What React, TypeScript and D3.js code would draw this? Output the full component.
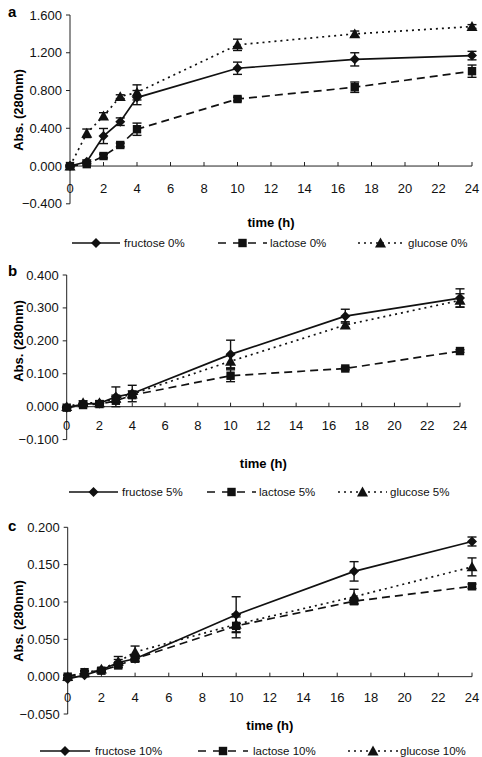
import React from "react";
import * as d3 from "d3";

const times = [0, 1, 2, 3, 4, 10, 17, 24];
const xTicks = [0, 2, 4, 6, 8, 10, 12, 14, 16, 18, 20, 22, 24];

// Panel a (0%)
const fructose0 = [0, 0.045, 0.318, 0.47, 0.725, 1.036, 1.13, 1.17];
const fructose0Err = [0.01, 0.02, 0.08, 0.04, 0.075, 0.065, 0.07, 0.045];
const lactose0 = [0, 0.02, 0.106, 0.223, 0.39, 0.71, 0.835, 1.005];
const lactose0Err = [0.01, 0.01, 0.02, 0.02, 0.065, 0.02, 0.055, 0.065];
const glucose0 = [0, 0.347, 0.53, 0.735, 0.78, 1.284, 1.4, 1.478];
const glucose0Err = [0.01, 0.045, 0.035, 0.02, 0.08, 0.06, 0.03, 0.02];
const yTicksA = [-0.4, 0, 0.4, 0.8, 1.2, 1.6];

// Panel b (5%)
const fructose5 = [-0.003, 0.008, 0.01, 0.03, 0.04, 0.159, 0.275, 0.33];
const fructose5Err = [0.002, 0.004, 0.004, 0.03, 0.025, 0.043, 0.021, 0.028];
const lactose5 = [-0.003, 0.005, 0.008, 0.018, 0.035, 0.094, 0.116, 0.169];
const lactose5Err = [0.002, 0.003, 0.003, 0.005, 0.005, 0.018, 0.004, 0.004];
const glucose5 = [0, 0.012, 0.012, 0.025, 0.038, 0.138, 0.248, 0.323];
const glucose5Err = [0.002, 0.006, 0.006, 0.01, 0.01, 0.02, 0.01, 0.02];
const yTicksB = [-0.1, 0, 0.1, 0.2, 0.3, 0.4];

// Panel c (10%)
const fructose10 = [-0.003, 0.002, 0.009, 0.019, 0.024, 0.083, 0.141, 0.181];
const fructose10Err = [0.002, 0.002, 0.002, 0.004, 0.004, 0.024, 0.013, 0.006];
const lactose10 = [0, 0.006, 0.008, 0.015, 0.024, 0.068, 0.101, 0.121];
const lactose10Err = [0.002, 0.002, 0.002, 0.003, 0.003, 0.016, 0.003, 0.003];
const glucose10 = [0, 0.005, 0.01, 0.02, 0.033, 0.07, 0.107, 0.147];
const glucose10Err = [0.002, 0.002, 0.002, 0.007, 0.008, 0.01, 0.01, 0.012];
const yTicksC = [-0.05, 0, 0.05, 0.1, 0.15, 0.2];

const FONT = "'Liberation Sans', Arial, Helvetica, sans-serif";

type Series = { name: string; values: number[]; err: number[]; kind: "diamond" | "square" | "triangle"; dash: string };

const dashOf = { diamond: "none", square: "8,5", triangle: "2,4" };

function Marker({ kind, x, y }: { kind: string; x: number; y: number }) {
  if (kind === "diamond") {
    const s = 5;
    return <path d={`M${x},${y - s}L${x + s},${y}L${x},${y + s}L${x - s},${y}Z`} fill="#111" />;
  }
  if (kind === "square") {
    const s = 4.2;
    return <rect x={x - s} y={y - s} width={2 * s} height={2 * s} fill="#111" />;
  }
  const s = 5.5;
  return <path d={`M${x},${y - s}L${x + s},${y + s * 0.8}L${x - s},${y + s * 0.8}Z`} fill="#111" />;
}

type PanelProps = {
  label: string;
  series: Series[];
  yTicks: number[];
  x0: number;
  x1: number;
  yTop: number;
  yZero: number;
  yBottom: number;
  xLabelOff: number;
  titleY: number;
  legendY: number;
  legendPos: { line0: number; line1: number; text: number }[];
  yLabelY: number;
  letterY: number;
};

function Panel(p: PanelProps) {
  const yMin = p.yTicks[0];
  const yMax = p.yTicks[p.yTicks.length - 1];
  const xs = d3.scaleLinear().domain([0, 24]).range([p.x0, p.x1]);
  const ys = d3.scaleLinear().domain([yMin, yMax]).range([p.yBottom, p.yTop]);
  const fmt = d3.format(".3f");
  return (
    <g>
      <text x={8} y={p.letterY} fontFamily={FONT} fontWeight="bold" fontSize={15}>
        {p.label}
      </text>
      {/* y axis */}
      <line x1={p.x0} x2={p.x0} y1={ys(yMax)} y2={ys(yMin)} stroke="#222" strokeWidth={1} />
      {p.yTicks.map((t) => (
        <g key={t}>
          <line x1={p.x0 - 4} x2={p.x0} y1={ys(t)} y2={ys(t)} stroke="#222" />
          <text x={p.x0 - 8} y={ys(t)} dy="0.35em" textAnchor="end" fontFamily={FONT} fontSize={13} fill="#111">
            {fmt(t)}
          </text>
        </g>
      ))}
      {/* x axis */}
      <line x1={p.x0} x2={p.x1} y1={ys(0)} y2={ys(0)} stroke="#222" strokeWidth={1} />
      {xTicks.map((t) => (
        <g key={t}>
          <line x1={xs(t)} x2={xs(t)} y1={ys(0)} y2={ys(0) - 4} stroke="#222" />
          <text x={xs(t)} y={ys(0) + p.xLabelOff} dy="0.35em" textAnchor="middle" fontFamily={FONT} fontSize={13} fill="#111">
            {t}
          </text>
        </g>
      ))}
      <text
        transform={`translate(18,${p.yLabelY}) rotate(-90)`}
        textAnchor="middle"
        dy="0.35em"
        fontFamily={FONT}
        fontWeight="bold"
        fontSize={13}
      >
        Abs. (280nm)
      </text>
      <text x={(p.x0 + p.x1) / 2} y={p.titleY} dy="0.35em" textAnchor="middle" fontFamily={FONT} fontWeight="bold" fontSize={13}>
        time (h)
      </text>
      {/* series lines */}
      {p.series.map((s) => {
        const line = d3
          .line<number>()
          .x((_, i) => xs(times[i]))
          .y((v) => ys(v));
        return (
          <path
            key={s.name + "l"}
            d={line(s.values) || ""}
            fill="none"
            stroke="#111"
            strokeWidth={1.7}
            strokeDasharray={s.dash}
          />
        );
      })}
      {/* error bars and markers */}
      {p.series.map((s) => (
        <g key={s.name + "m"}>
          {s.values.map((v, i) => {
            const cx = xs(times[i]);
            const hi = ys(v + s.err[i]);
            const lo = ys(v - s.err[i]);
            return (
              <g key={i}>
                <line x1={cx} x2={cx} y1={hi} y2={lo} stroke="#111" strokeWidth={1.4} />
                <line x1={cx - 4.5} x2={cx + 4.5} y1={hi} y2={hi} stroke="#111" strokeWidth={1.4} />
                <line x1={cx - 4.5} x2={cx + 4.5} y1={lo} y2={lo} stroke="#111" strokeWidth={1.4} />
                <Marker kind={s.kind} x={cx} y={ys(v)} />
              </g>
            );
          })}
        </g>
      ))}
      {/* legend */}
      {p.series.map((s, i) => {
        const lp = p.legendPos[i];
        return (
          <g key={s.name + "lg"}>
            <line x1={lp.line0} x2={lp.line1} y1={p.legendY} y2={p.legendY} stroke="#111" strokeWidth={1.7} strokeDasharray={s.dash === "none" ? "none" : s.kind === "square" ? "8,7" : "2,4"} />
            <Marker kind={s.kind} x={(lp.line0 + lp.line1) / 2} y={p.legendY} />
            <text x={lp.text} y={p.legendY} dy="0.35em" fontFamily={FONT} fontSize={11.5} fill="#111">
              {s.name}
            </text>
          </g>
        );
      })}
    </g>
  );
}

function mk(names: string[], vals: number[][], errs: number[][]): Series[] {
  const kinds: ("diamond" | "square" | "triangle")[] = ["diamond", "square", "triangle"];
  return names.map((n, i) => ({ name: n, values: vals[i], err: errs[i], kind: kinds[i], dash: dashOf[kinds[i]] }));
}

export default function App() {
  const seriesA = mk(["fructose 0%", "lactose 0%", "glucose 0%"], [fructose0, lactose0, glucose0], [fructose0Err, lactose0Err, glucose0Err]);
  const seriesB = mk(["fructose 5%", "lactose 5%", "glucose 5%"], [fructose5, lactose5, glucose5], [fructose5Err, lactose5Err, glucose5Err]);
  const seriesC = mk(["fructose 10%", "lactose 10%", "glucose 10%"], [fructose10, lactose10, glucose10], [fructose10Err, lactose10Err, glucose10Err]);
  return (
    <svg width={482} height={757} style={{ position: "absolute", left: 0, top: 0, background: "#fff" }}>
      <rect width={482} height={757} fill="#fff" />
      <Panel
        label="a"
        series={seriesA}
        yTicks={yTicksA}
        x0={70}
        x1={472}
        yTop={15}
        yZero={166}
        yBottom={203.8}
        xLabelOff={22.5}
        titleY={222}
        legendY={243}
        legendPos={[
          { line0: 72, line1: 120, text: 124 },
          { line0: 218, line1: 267, text: 270 },
          { line0: 358, line1: 403, text: 408 },
        ]}
        yLabelY={110}
        letterY={17}
      />
      <Panel
        label="b"
        series={seriesB}
        yTicks={yTicksB}
        x0={66.7}
        x1={460}
        yTop={275}
        yZero={406.7}
        yBottom={439.6}
        xLabelOff={19}
        titleY={463}
        legendY={492}
        legendPos={[
          { line0: 69, line1: 118, text: 122 },
          { line0: 207, line1: 256, text: 259 },
          { line0: 338, line1: 387, text: 390 },
        ]}
        yLabelY={341}
        letterY={276}
      />
      <Panel
        label="c"
        series={seriesC}
        yTicks={yTicksC}
        x0={67.7}
        x1={472}
        yTop={527.3}
        yZero={676.7}
        yBottom={714}
        xLabelOff={20.5}
        titleY={725}
        legendY={751}
        legendPos={[
          { line0: 40, line1: 90, text: 95 },
          { line0: 198, line1: 248, text: 253 },
          { line0: 348, line1: 398, text: 400 },
        ]}
        yLabelY={621}
        letterY={531}
      />
    </svg>
  );
}
